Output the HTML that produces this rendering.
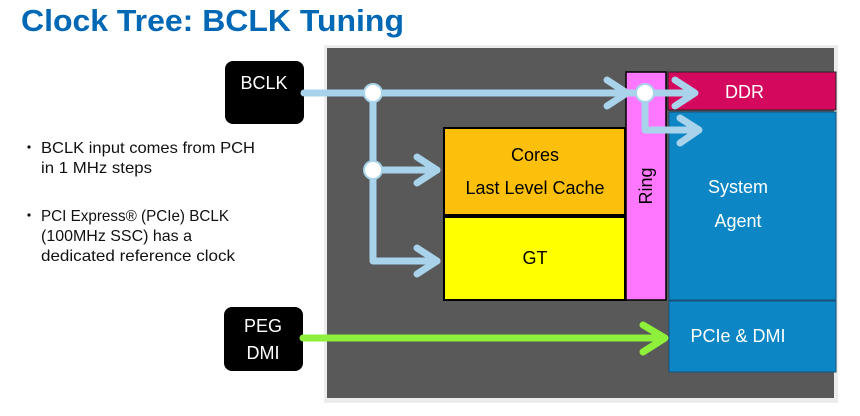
<!DOCTYPE html>
<html><head><style>
body{margin:0;width:860px;height:411px;background:#fff;overflow:hidden;font-family:"Liberation Sans",sans-serif}
</style></head><body>
<svg width="860" height="411" xmlns="http://www.w3.org/2000/svg" font-family="Liberation Sans, sans-serif">
<text x="21" y="31" font-size="31" font-weight="bold" fill="#0068b5" textLength="383" lengthAdjust="spacingAndGlyphs">Clock Tree: BCLK Tuning</text>
<g font-size="16" fill="#111">
<circle cx="29" cy="147" r="1.6"/><circle cx="29" cy="215" r="1.6"/>
<text x="41" y="153" textLength="214" lengthAdjust="spacingAndGlyphs">BCLK input comes from PCH</text>
<text x="41" y="173" textLength="111" lengthAdjust="spacingAndGlyphs">in 1 MHz steps</text>
<text x="41" y="221" textLength="188" lengthAdjust="spacingAndGlyphs">PCI Express® (PCIe) BCLK</text>
<text x="41" y="241" textLength="151" lengthAdjust="spacingAndGlyphs">(100MHz SSC) has a</text>
<text x="41" y="261" textLength="194" lengthAdjust="spacingAndGlyphs">dedicated reference clock</text>
</g>
<rect x="324" y="45" width="514" height="358" fill="#ececec"/>
<rect x="327" y="48" width="507" height="350" fill="#595959"/>
<rect x="225" y="61" width="79" height="63" rx="8" fill="#000"/>
<text x="264" y="89" font-size="18" fill="#fff" text-anchor="middle">BCLK</text>
<rect x="224" y="307" width="79" height="64" rx="8" fill="#000"/>
<text x="263" y="332" font-size="18" fill="#fff" text-anchor="middle">PEG</text>
<text x="263" y="359" font-size="18" fill="#fff" text-anchor="middle">DMI</text>
<rect x="444" y="128" width="181" height="87" fill="#fcbf0b" stroke="#000" stroke-width="2"/>
<text x="535" y="161" font-size="18" text-anchor="middle">Cores</text>
<text x="535" y="194" font-size="18" text-anchor="middle">Last Level Cache</text>
<rect x="444" y="217" width="181" height="83" fill="#ffff00" stroke="#000" stroke-width="2"/>
<text x="535" y="264" font-size="18" text-anchor="middle">GT</text>
<rect x="626" y="72" width="40" height="228" fill="#ff77ff" stroke="#000" stroke-width="1.5"/>
<text transform="translate(652,186) rotate(-90)" font-size="18" text-anchor="middle">Ring</text>
<rect x="668" y="72" width="168" height="38" fill="#d4095e" stroke="#222"/>
<text x="725" y="98" font-size="18" fill="#fff">DDR</text>
<rect x="669" y="112" width="167" height="188" fill="#0c86c4" stroke="#1a4f7a"/>
<text x="738" y="193" font-size="18" fill="#fff" text-anchor="middle">System</text>
<text x="738" y="227" font-size="18" fill="#fff" text-anchor="middle">Agent</text>
<rect x="669" y="301" width="167" height="71" fill="#0c86c4" stroke="#1a4f7a"/>
<text x="738" y="342" font-size="18" fill="#fff" text-anchor="middle">PCIe &amp; DMI</text>
<g stroke="#a9d3ea" stroke-width="7" fill="none" stroke-linecap="round" stroke-linejoin="round">
<path d="M304 93 H636"/>
<path d="M373 93 V261 H437"/>
<path d="M373 170 H437"/>
<path d="M645 93 H694"/>
<path d="M645 93 V130 H698"/>
<path d="M607 80 L627 93 L607 106"/>
<path d="M417 157 L437 170 L417 183"/>
<path d="M417 248 L437 261 L417 274"/>
<path d="M675 80 L695 93 L675 106"/>
<path d="M680 118 L699 130 L680 143"/>
</g>
<g fill="#fff" stroke="#a9d3ea" stroke-width="2">
<circle cx="373" cy="93" r="9"/><circle cx="373" cy="170" r="9"/><circle cx="645" cy="93" r="9"/>
</g>
<g stroke="#8ef03a" stroke-width="7" fill="none" stroke-linecap="round" stroke-linejoin="round">
<path d="M303 338 H664"/>
<path d="M643 325 L665 338 L643 352"/>
</g>
</svg>
</body></html>
